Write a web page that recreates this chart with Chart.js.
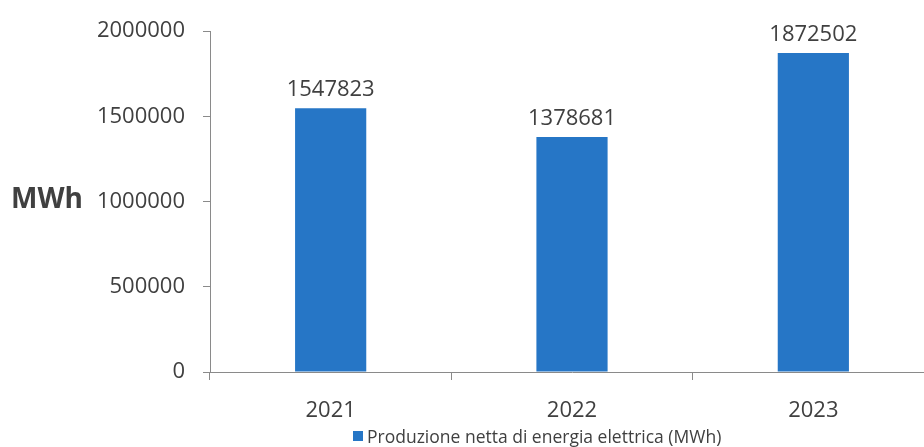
<!DOCTYPE html>
<html>
<head>
<meta charset="utf-8">
<script src="https://cdn.jsdelivr.net/npm/chart.js@4.4.1/dist/chart.umd.min.js"></script>
<style>
  html, body { margin: 0; padding: 0; background: #ffffff; overflow: hidden; }
  #wrap { width: 924px; height: 447px; overflow: hidden; position: relative; }
  canvas { display: block; }
</style>
</head>
<body>
<div id="wrap"><canvas id="chart" width="934" height="447"></canvas></div>
<script>
// Annual net electricity production
const years = ['2021', '2022', '2023'];
const production = [1547823, 1378681, 1872502];
const yTicks = [0, 500000, 1000000, 1500000, 2000000];
const seriesLabel = 'Produzione netta di energia elettrica (MWh)';
const unitLabel = 'MWh';

const barBlue = 'rgb(38,118,198)';
const textGrey = '#404040';
const axisGrey = '#8a8a8a';
const fontFamily = '"Open Sans", "Liberation Sans", sans-serif';

// Value labels above each bar
const valueLabels = {
  id: 'valueLabels',
  afterDatasetsDraw(chart) {
    const ctx = chart.ctx;
    const meta = chart.getDatasetMeta(0);
    ctx.save();
    ctx.font = '22px ' + fontFamily;
    ctx.fillStyle = textGrey;
    ctx.textAlign = 'center';
    ctx.textBaseline = 'alphabetic';
    meta.data.forEach((bar, i) => {
      ctx.fillText(String(chart.data.datasets[0].data[i]), bar.x, bar.y - 12);
    });
    ctx.restore();
  }
};

// Horizontal unit label beside the value axis, and the legend line
const extras = {
  id: 'extras',
  afterDraw(chart) {
    const ctx = chart.ctx;
    const y = chart.scales.y;
    ctx.save();
    ctx.fillStyle = textGrey;
    ctx.font = 'bold 28px ' + fontFamily;
    ctx.textAlign = 'left';
    ctx.textBaseline = 'alphabetic';
    ctx.fillText(unitLabel, 11, y.getPixelForValue(1000000) + 6);

    // legend
    ctx.fillStyle = barBlue;
    ctx.fillRect(353, 431, 10, 10);
    ctx.fillStyle = textGrey;
    ctx.font = '17.5px ' + fontFamily;
    ctx.fillText(chart.data.datasets[0].label, 367, 443);
    ctx.restore();
  }
};

new Chart(document.getElementById('chart'), {
  type: 'bar',
  data: {
    labels: years,
    datasets: [{
      label: seriesLabel,
      data: production,
      backgroundColor: barBlue,
      borderWidth: 0,
      barPercentage: 1,
      categoryPercentage: 0.295
    }]
  },
  options: {
    responsive: false,
    animation: false,
    layout: { padding: { top: 29, left: 0, right: 0, bottom: 0 } },
    plugins: {
      legend: { display: false },
      tooltip: { enabled: false }
    },
    scales: {
      x: {
        afterFit(scale) { scale.height = 75; },
        grid: {
          offset: true,
          drawOnChartArea: false,
          drawTicks: true,
          tickLength: 8,
          color: axisGrey
        },
        border: { display: true, color: axisGrey, width: 1 },
        ticks: {
          padding: 18,
          color: textGrey,
          font: { family: fontFamily, size: 22 }
        }
      },
      y: {
        min: 0,
        max: 2000000,
        afterFit(scale) { scale.width = 210; },
        afterBuildTicks(scale) { scale.ticks = yTicks.map(v => ({ value: v })); },
        grid: {
          drawOnChartArea: false,
          drawTicks: true,
          tickLength: 7,
          color: axisGrey
        },
        border: { display: true, color: axisGrey, width: 1 },
        ticks: {
          padding: 18,
          color: textGrey,
          font: { family: fontFamily, size: 22 },
          callback: v => String(v)
        }
      }
    }
  },
  plugins: [valueLabels, extras]
});
</script>
</body>
</html>
